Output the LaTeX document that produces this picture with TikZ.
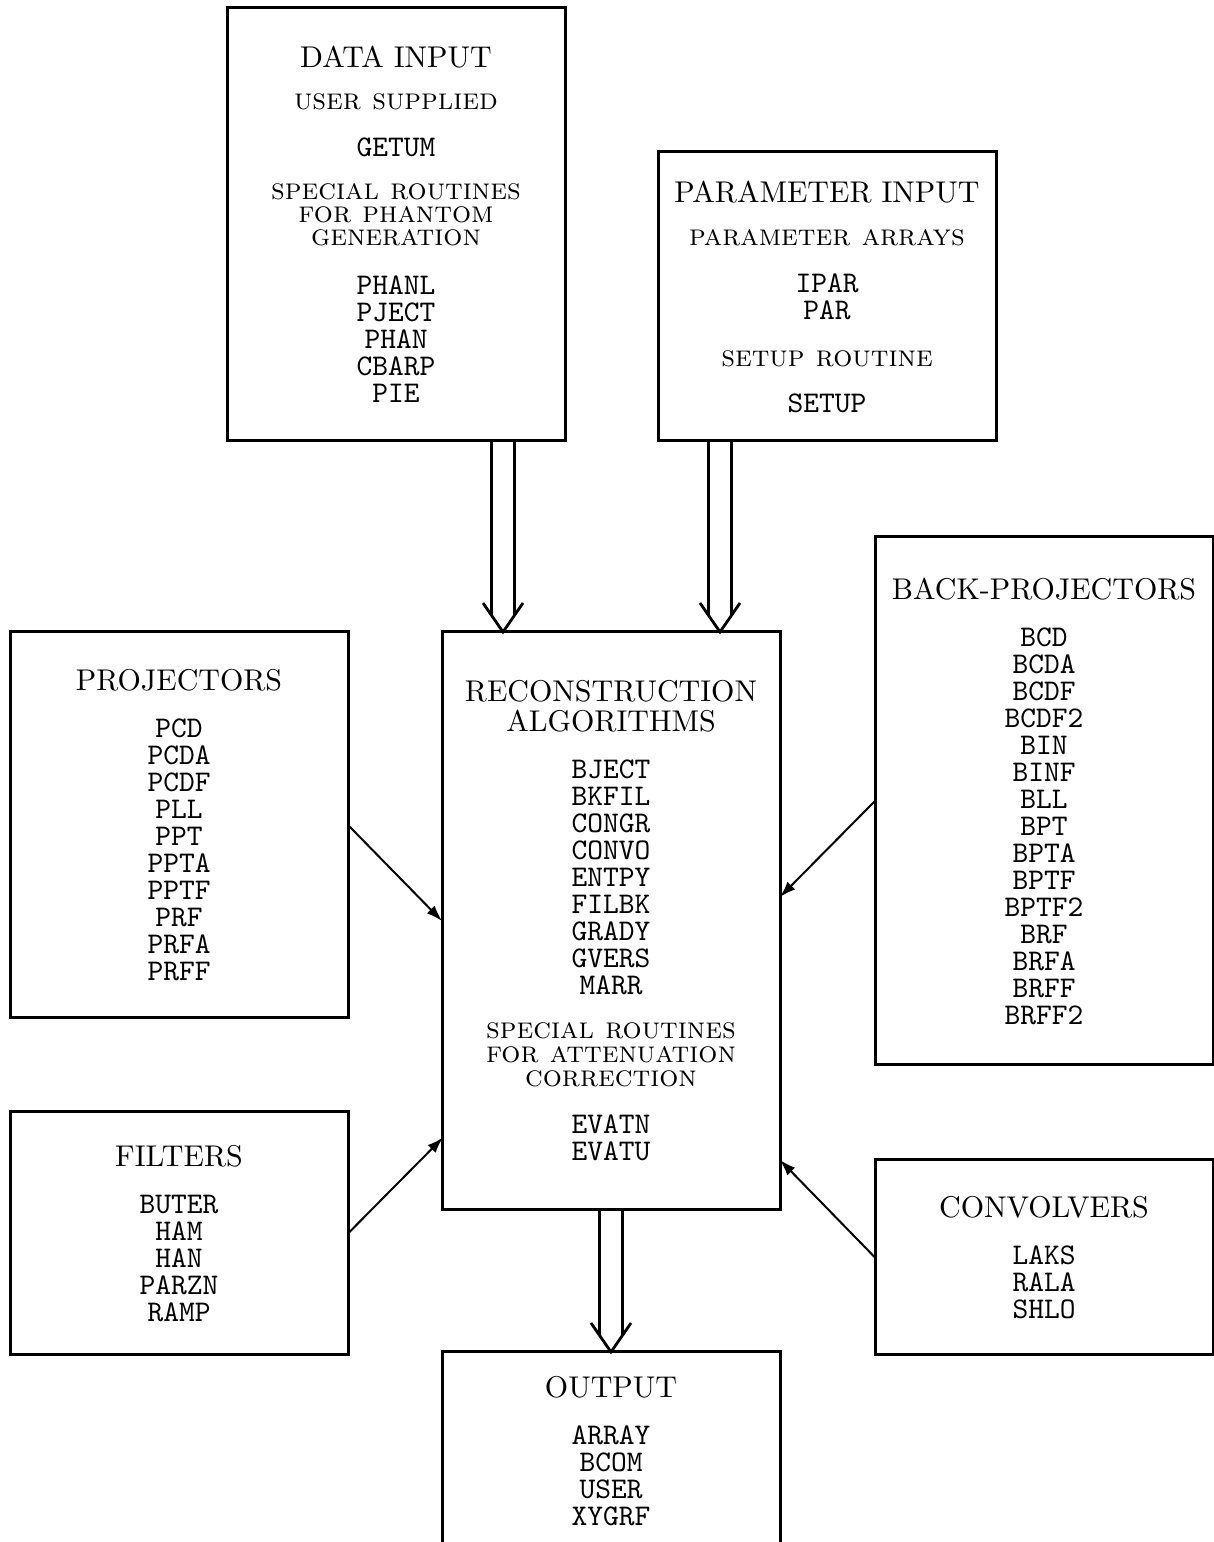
\documentclass[tikz,border=0pt]{standalone}
\usepackage{fontspec}
\setmainfont{lmroman10-regular}[Extension=.otf, SmallCapsFont=lmromancaps10-regular.otf]
\setmonofont{lmmono10-regular}[Extension=.otf]
\usepackage{tikz}
\usetikzlibrary{positioning,calc,arrows.meta}

\newcommand{\boxtitle}[1]{\textrm{#1}}
\newcommand{\boxnote}[1]{\textrm{\textsc{#1}}}

\begin{document}
\begin{tikzpicture}[
    x=0.5pt, y=0.5pt,
    box/.style={draw, line width=1.5pt, minimum width=169pt, inner sep=0pt, outer sep=0pt,
                align=center, font=\fontsize{15}{13.5}\selectfont\ttfamily},
    arr/.style={line width=1pt, -{Latex[length=8pt, width=5.5pt]}},
    dblarrow/.style={line width=1.4pt, to path={
        ($(\tikztostart)+(-11.5,0)$) -- ($(\tikztotarget)+(-11.5,17.5)$)
        ($(\tikztostart)+(11.5,0)$) -- ($(\tikztotarget)+(11.5,17.5)$)
        ($(\tikztotarget)+(-20,29)$) -- (\tikztotarget) -- ($(\tikztotarget)+(20,29)$)}}
]
\useasboundingbox (0,0) rectangle (1214,1542);
\clip (0,0) rectangle (1214,1542);

% --- Central box ---
\node[box, minimum height=289pt] (recon) at (611,621) {%
    \boxtitle{RECONSTRUCTION}\\[1.5pt]
    \boxtitle{ALGORITHMS}\\[10pt]
    BJECT\\ BKFIL\\ CONGR\\ CONVO\\ ENTPY\\ FILBK\\ GRADY\\ GVERS\\ MARR\\[8.5pt]
    \boxnote{special routines}\\[-1.5pt]
    \boxnote{for attenuation}\\[-1.5pt]
    \boxnote{correction}\\[10pt]
    EVATN\\ EVATU};

% --- Inputs (top) ---
\node[box, minimum height=216.5pt, above left=95.5pt and 107.5pt of recon.north west, anchor=south west] (datain) {%
    \boxtitle{DATA INPUT}\\[7.5pt]
    \boxnote{user supplied}\\[10pt]
    GETUM\\[8pt]
    \boxnote{special routines}\\[-2pt]
    \boxnote{for phantom}\\[-2pt]
    \boxnote{generation}\\[11pt]
    PHANL\\ PJECT\\ PHAN\\ CBARP\\ PIE};
\node[box, minimum height=144.5pt, above right=95.5pt and 108pt of recon.north west, anchor=south west] (param) {%
    \boxtitle{PARAMETER INPUT}\\[8pt]
    \boxnote{parameter arrays}\\[10pt]
    IPAR\\ PAR\\[10pt]
    \boxnote{setup routine}\\[9.5pt]
    SETUP};

% --- Left side ---
\node[box, minimum height=193pt, left=47pt of recon.north west, anchor=north east] (proj) {%
    \boxtitle{PROJECTORS}\\[10pt]
    PCD\\ PCDA\\ PCDF\\ PLL\\ PPT\\ PPTA\\ PPTF\\ PRF\\ PRFA\\ PRFF};
\node[box, minimum height=121.5pt, below=47pt of proj] (filt) {%
    \boxtitle{FILTERS}\\[10pt]
    BUTER\\ HAM\\ HAN\\ PARZN\\ RAMP};

% --- Right side ---
\node[box, minimum height=264pt, above right=47.5pt and 47.5pt of recon.north east, anchor=north west] (back) {%
    \boxtitle{BACK-PROJECTORS}\\[10pt]
    BCD\\ BCDA\\ BCDF\\ BCDF2\\ BIN\\ BINF\\ BLL\\ BPT\\ BPTA\\ BPTF\\ BPTF2\\ BRF\\ BRFA\\ BRFF\\ BRFF2};
\node[box, minimum height=97.5pt, below=47.5pt of back] (conv) {%
    \boxtitle{CONVOLVERS}\\[10pt]
    LAKS\\ RALA\\ SHLO};

% --- Output (bottom) ---
\node[box, minimum height=99pt, below=71pt of recon] (output) {%
    \boxtitle{OUTPUT}\\[10pt]
    ARRAY\\ BCOM\\ USER\\ XYGRF};

% --- Connectors ---
\coordinate (dtop) at ($(datain.south east)+(-62,0)$);
\coordinate (dtip) at (dtop |- recon.north);
\coordinate (ptop) at ($(param.south west)+(62,0)$);
\coordinate (ptip) at (ptop |- recon.north);
\draw[dblarrow] (dtop) to (dtip);
\draw[dblarrow] (ptop) to (ptip);
\draw[dblarrow] (recon.south) to (output.north);

\coordinate (fend) at ($(filt.east)+(95,96)$);
\coordinate (bend) at ($(back.west)+(-95,-96)$);
\draw[arr] (proj.east) -- (recon.west);
\draw[arr] (filt.east) -- (fend);
\draw[arr] (back.west) -- (bend);
\draw[arr] (conv.west) -- (recon.east |- conv.north);
\end{tikzpicture}
\end{document}
